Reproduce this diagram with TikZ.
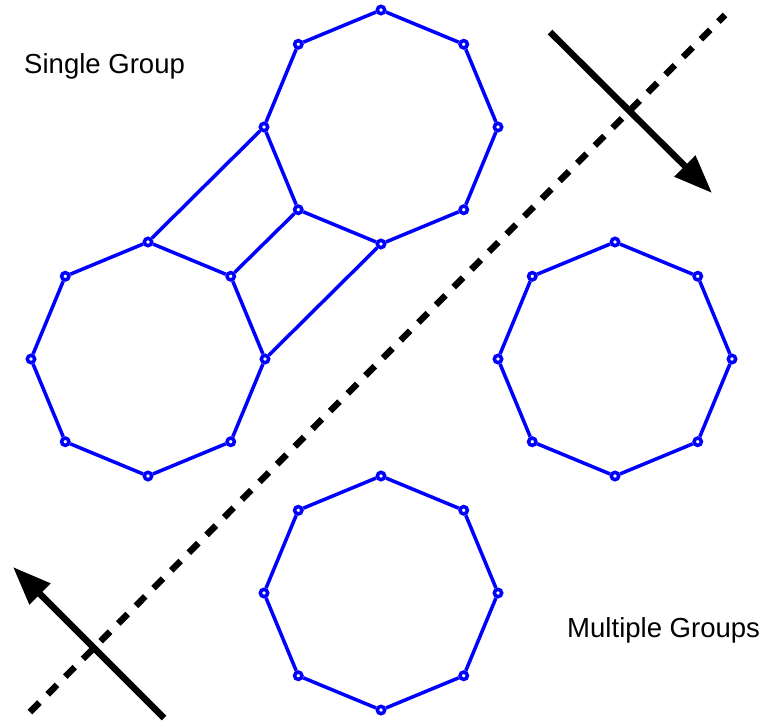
\documentclass[tikz,border=0pt]{standalone}
\usepackage{fontspec}
\setmainfont{Liberation Sans}
\usetikzlibrary{arrows.meta}

\begin{document}
\begin{tikzpicture}[
      x=0.03cm, y=-0.03cm,
      vtx/.style={circle, draw=blue, fill=white, line width=3pt, inner sep=0pt, minimum size=0.22cm},
      edge/.style={draw=blue, line width=3pt},
      split/.style={black, line width=5.5pt, dash pattern=on 0.4cm off 0.35cm},
      arrow/.style={-{Triangle[length=1.15cm, width=0.85cm]}, black, line width=5.5pt},
      lbl/.style={anchor=base west, inner sep=0pt, font=\fontsize{23.5}{28}\selectfont}
    ]
    \useasboundingbox (0,0) rectangle (767,726);

    % octagon vertices
    \foreach \n/\cx/\cy in {t/381/127, l/148/359, r/615/359, b/381/593}{
      \foreach \k in {0,...,7}{
        \node[vtx] (\n\k) at ({\cx+117*cos(90-45*\k)}, {\cy-117*sin(90-45*\k)}) {};
      }
    }

    % octagon sides
    \foreach \n in {t,l,r,b}{
      \foreach \k [evaluate=\k as \j using {int(mod(\k+1,8))}] in {0,...,7}{
        \draw[edge] (\n\k) -- (\n\j);
      }
    }

    % links of the single group
    \draw[edge] (l0) -- (t6);
    \draw[edge] (l1) -- (t5);
    \draw[edge] (l2) -- (t4);

    \coordinate (cutA) at (30,712);
    \coordinate (cutB) at (725,15);
    \draw[split] (cutA) -- (cutB);

    \coordinate (downS) at (550,32);
    \coordinate (downE) at (712,193);
    \coordinate (upS) at (164,718);
    \coordinate (upE) at (13,567);
    \draw[arrow] (downS) -- (downE);
    \draw[arrow] (upS) -- (upE);

    \node[lbl] (single) at (24,73) {Single Group};
    \node[lbl] (multi) at (567,637) {Multiple Groups};
  \end{tikzpicture}
\end{document}
